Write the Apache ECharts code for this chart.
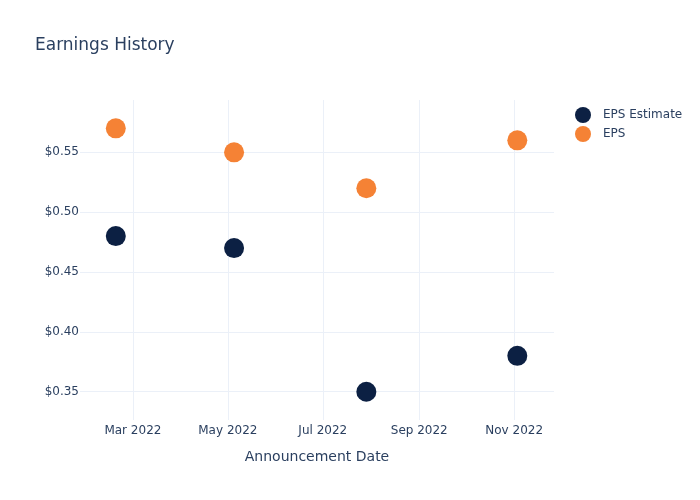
<!DOCTYPE html>
<html>
<head>
<meta charset="utf-8">
<script src="https://cdn.jsdelivr.net/npm/echarts@6/dist/echarts.min.js"></script>
<style>html,body{margin:0;padding:0;background:#fff}#c{width:700px;height:500px}</style>
</head>
<body>
<div id="c"></div>
<script>
const dates = ['2022-02-18', '2022-05-05', '2022-07-29', '2022-11-03'];
const epsEstimate = [0.48, 0.47, 0.35, 0.38];
const eps = [0.57, 0.55, 0.52, 0.56];
const xTickDates = ['2022-03-01', '2022-05-01', '2022-07-01', '2022-09-01', '2022-11-01'];
const xTickLabels = ['Mar 2022', 'May 2022', 'Jul 2022', 'Sep 2022', 'Nov 2022'];
const yTicks = [0.35, 0.40, 0.45, 0.50, 0.55];

const ts = d => new Date(d + 'T00:00:00Z').getTime();
const xTickTs = xTickDates.map(ts);
const textColor = '#2a3f5f';
const gridColor = '#ebf0f8';
const font = '"DejaVu Sans", Verdana, sans-serif';

const chart = echarts.init(document.getElementById('c'), null, {renderer: 'canvas'});
chart.setOption({
  animation: false,
  backgroundColor: '#fff',
  textStyle: {fontFamily: font},
  title: {
    text: 'Earnings History', left: 30, top: 32,
    textStyle: {fontSize: 17, fontWeight: 'normal', color: textColor, fontFamily: font}
  },
  legend: {
    orient: 'vertical', left: 570, top: 102, itemGap: 3,
    icon: 'circle', itemWidth: 30, itemHeight: 16,
    textStyle: {fontSize: 12, color: textColor, fontFamily: font},
    data: ['EPS Estimate', 'EPS']
  },
  grid: {left: 80, right: 146, top: 100, bottom: 80},
  xAxis: {
    type: 'value',
    min: ts('2022-01-26'), max: ts('2022-11-26') + 14 * 3600 * 1000,
    name: 'Announcement Date', nameLocation: 'middle', nameGap: 30,
    nameTextStyle: {fontSize: 14, color: textColor, fontFamily: font},
    axisLine: {show: false}, axisTick: {show: false, customValues: xTickTs},
    splitLine: {show: true, lineStyle: {color: gridColor, width: 1}},
    axisLabel: {
      customValues: xTickTs, color: textColor, fontSize: 12, margin: 5, fontFamily: font,
      formatter: v => { const i = xTickTs.indexOf(v); return i >= 0 ? xTickLabels[i] : ''; }
    }
  },
  yAxis: {
    type: 'value', min: 0.3264, max: 0.5937,
    axisLine: {show: false}, axisTick: {show: false, customValues: yTicks},
    splitLine: {show: true, lineStyle: {color: gridColor, width: 1}},
    axisLabel: {customValues: yTicks, color: textColor, fontSize: 12, margin: 1, fontFamily: font,
      formatter: v => '$' + v.toFixed(2)}
  },
  series: [
    {name: 'EPS Estimate', type: 'scatter', symbolSize: 20,
     itemStyle: {color: '#0c2043', opacity: 1},
     data: dates.map((d, i) => [ts(d), epsEstimate[i]])},
    {name: 'EPS', type: 'scatter', symbolSize: 20,
     itemStyle: {color: '#f58235', opacity: 1},
     data: dates.map((d, i) => [ts(d), eps[i]])}
  ]
});
</script>
</body>
</html>
